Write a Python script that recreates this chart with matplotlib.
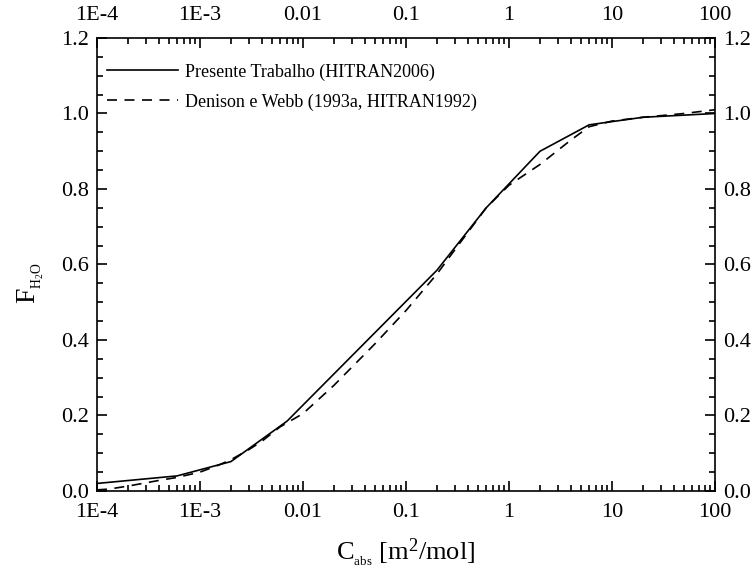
import matplotlib
matplotlib.use('Agg')
import matplotlib.pyplot as plt
import numpy as np
from matplotlib.ticker import FixedLocator, FixedFormatter, MultipleLocator, LogLocator

plt.rcParams['font.family'] = ['Liberation Serif', 'DejaVu Serif']
plt.rcParams['mathtext.fontset'] = 'custom'
plt.rcParams['mathtext.rm'] = 'Liberation Serif'
plt.rcParams['mathtext.it'] = 'Liberation Serif:italic'

# Presente Trabalho (HITRAN2006)
c_presente = [1e-4, 6e-4, 2e-3, 7e-3, 0.2, 0.6, 2, 6, 20, 100]
f_presente = [0.02, 0.04, 0.078, 0.185, 0.585, 0.75, 0.90, 0.97, 0.99, 1.0]

# Denison e Webb (1993a, HITRAN1992)
c_denison = [1e-4, 1.3e-4, 2e-4, 4e-4, 6e-4, 1e-3, 1.5e-3, 2e-3, 3e-3, 4e-3, 6e-3,
             0.01, 0.02, 0.05, 0.1, 0.2, 0.3, 0.6, 1, 2, 4, 6, 10, 20, 50, 100]
f_denison = [0.003, 0.005, 0.013, 0.028, 0.036, 0.05, 0.068, 0.083, 0.11, 0.132, 0.17,
             0.205, 0.28, 0.39, 0.478, 0.575, 0.64, 0.75, 0.81, 0.865, 0.93, 0.965,
             0.98, 0.99, 1.0, 1.01]

x_ticks = [1e-4, 1e-3, 1e-2, 1e-1, 1, 10, 100]
x_labels = ['1E-4', '1E-3', '0.01', '0.1', '1', '10', '100']
y_ticks = [0.0, 0.2, 0.4, 0.6, 0.8, 1.0, 1.2]

fig = plt.figure(figsize=(7.54, 5.74), dpi=100)
ax = fig.add_axes([0.1286, 0.1446, 0.8197, 0.7892])

ax.plot(c_presente, f_presente, color='black', lw=1.2, ls='-',
        label='Presente Trabalho (HITRAN2006)')
ax.plot(c_denison, f_denison, color='black', lw=1.2, ls=(0, (6, 4.5)),
        label='Denison e Webb (1993a, HITRAN1992)')

ax.set_xscale('log')
ax.set_xlim(1e-4, 100)
ax.set_ylim(0, 1.2)
ax.xaxis.set_major_locator(FixedLocator(x_ticks))
ax.xaxis.set_major_formatter(FixedFormatter(x_labels))
ax.xaxis.set_minor_locator(LogLocator(base=10, subs=np.arange(2, 10), numticks=20))
ax.xaxis.set_minor_formatter(FixedFormatter([]))
ax.yaxis.set_major_locator(FixedLocator(y_ticks))
ax.yaxis.set_minor_locator(MultipleLocator(0.05))
ax.set_yticklabels(['%.1f' % v for v in y_ticks])

ax.tick_params(which='both', direction='in', top=True, right=True,
               labeltop=True, labelright=True, labelsize=16, width=1.2)
ax.tick_params(which='major', length=7)
ax.tick_params(which='minor', length=4)
ax.xaxis.set_tick_params(which='major', pad=9)
ax.yaxis.set_tick_params(which='major', pad=6)
for s in ax.spines.values():
    s.set_linewidth(1.2)

ax.set_xlabel(r'$\mathrm{C_{{}_{abs}}}$ [m$^2$/mol]', fontsize=19)
ax.xaxis.set_label_coords(0.5, -0.1)
ax.set_ylabel(r'$\mathrm{F_{{}_{H_2O}}}$', fontsize=20)
ax.yaxis.set_label_coords(-0.082, 0.46)

ax.legend(loc='upper left', bbox_to_anchor=(0.005, 0.96), frameon=False,
          fontsize=13, handlelength=3.9, handletextpad=0.4, borderaxespad=0,
          borderpad=0.4, labelspacing=0.7)

fig.savefig('out.png', dpi=100)
